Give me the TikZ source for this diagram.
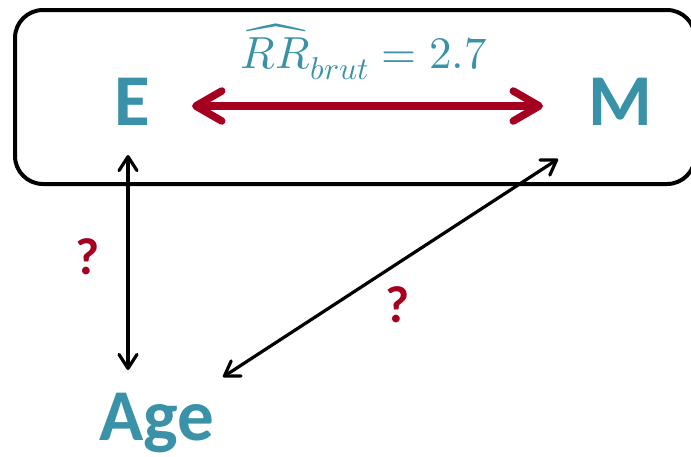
\documentclass[tikz,border=0pt]{standalone}
\usepackage{fontspec}
\usepackage{unicode-math}
\setmainfont{Carlito}
\setmathfont{Latin Modern Math}
\usetikzlibrary{arrows.meta}
\definecolor{tealc}{RGB}{58,146,168}
\definecolor{dred}{RGB}{166,0,33}
\begin{document}
\begin{tikzpicture}[x=1pt,y=-1pt,
  lbl/.style={text=tealc, font=\fontsize{73}{80}\selectfont\bfseries, inner sep=0pt, outer sep=0pt, anchor=base},
  qm/.style={text=dred, font=\fontsize{52}{60}\selectfont\bfseries, inner sep=0pt},
  formula/.style={text=tealc, font=\fontsize{45}{50}\selectfont, inner sep=0pt, anchor=base},
  redarrow/.style={draw=dred, line width=7.5pt, {Straight Barb[length=26pt,width=30pt,round]}-{Straight Barb[length=26pt,width=30pt,round]}},
  blkarrow/.style={draw=black, line width=3.2pt, {Straight Barb[length=14pt,width=18pt,round]}-{Straight Barb[length=14pt,width=18pt,round]}},
  frame/.style={draw=black, line width=4pt, rounded corners=28pt}]
\useasboundingbox (0,0) rectangle (691,456);
\draw[frame] (15,10) rectangle (695,184);
\node[lbl] (E) at (132,125) {E};
\node[lbl] (M) at (620,125) {M};
\node[lbl] (Age) at (157,440) {Age};
\node[formula] (RR) at (364,68) {$\widehat{RR}_{brut}=2.7$};
\node[qm] (q1) at (88,257) {?};
\node[qm] (q2) at (398,305) {?};
\draw[redarrow] ([shift={(60pt,19pt)}]E.base) -- ([shift={(-77pt,19pt)}]M.base);
\draw[blkarrow] ([shift={(-4pt,-30pt)}]E.base) -- ([shift={(-29pt,70pt)}]Age.base);
\draw[blkarrow] ([shift={(-62pt,-34pt)}]M.base) -- ([shift={(66pt,63pt)}]Age.base);
\end{tikzpicture}
\end{document}
